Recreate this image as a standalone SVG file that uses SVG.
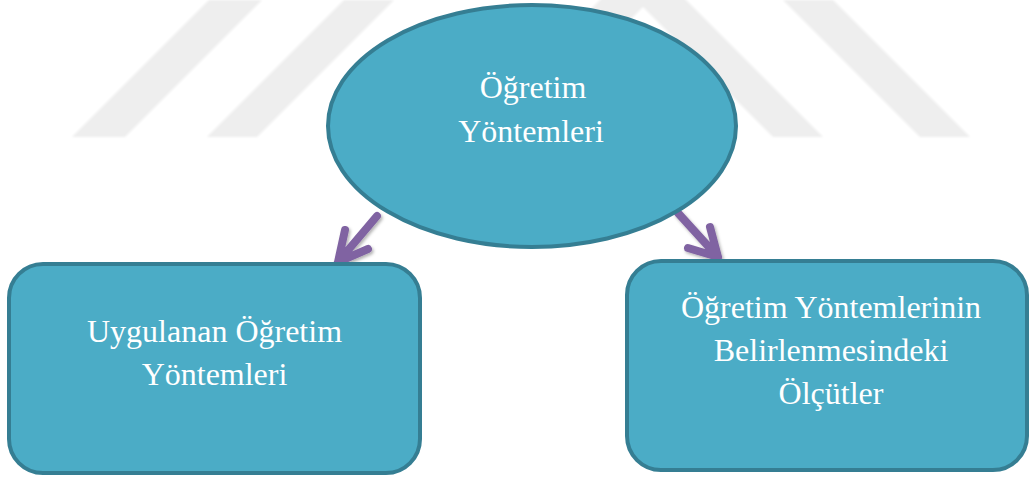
<svg xmlns="http://www.w3.org/2000/svg" width="1030" height="478" viewBox="0 0 1030 478">
  <defs>
    <style>
      .node { fill: #4bacc6; stroke: #357e93; stroke-width: 4; }
      .label { font-family: "Liberation Serif", "Times New Roman", serif; font-size: 32px; fill: #ffffff; text-anchor: middle; }
      .arrow { fill: none; stroke: #8064a2; stroke-width: 8; stroke-linecap: round; stroke-linejoin: round; }
      .mark { fill: #eeeeee; }
    </style>
    <filter id="soft" x="-5%" y="-5%" width="110%" height="110%">
      <feGaussianBlur stdDeviation="0.8"/>
    </filter>
    <filter id="shadow" x="-30%" y="-30%" width="160%" height="160%">
      <feDropShadow dx="1.5" dy="2" stdDeviation="1.5" flood-color="#000000" flood-opacity="0.3"/>
    </filter>
  </defs>

  <rect width="1030" height="478" fill="#ffffff"/>

  <!-- background stripes -->
  <g id="watermark" filter="url(#soft)">
    <polygon class="mark" points="209,0 262,0 125,137 72,137"/>
    <polygon class="mark" points="344,0 394,0 257,137 207,137"/>
    <polygon class="mark" points="643,-43 823,137 773,137 643,7 513,137 463,137"/>
    <polygon class="mark" points="783,0 833,0 970,137 920,137"/>
  </g>

  <!-- connectors -->
  <g id="connectors" filter="url(#shadow)">
    <path class="arrow" d="M377,216 L338,262 M345,230 L338,262 L368,249"/>
    <path class="arrow" d="M678,213 L718,257 M710,227 L718,257 L688,248"/>
  </g>

  <g id="node-root">
    <ellipse class="node" cx="532" cy="126" rx="204" ry="121"/>
    <text class="label" x="533" y="98">Öğretim</text>
    <text class="label" x="531" y="142">Yöntemleri</text>
  </g>

  <g id="node-left">
    <rect class="node" x="9" y="264" width="411" height="209" rx="34" ry="34"/>
    <text class="label" x="214.5" y="342">Uygulanan Öğretim</text>
    <text class="label" x="214.5" y="385">Yöntemleri</text>
  </g>

  <g id="node-right">
    <rect class="node" x="627" y="261" width="400" height="209" rx="34" ry="34"/>
    <text class="label" x="831" y="318">Öğretim Yöntemlerinin</text>
    <text class="label" x="831" y="361">Belirlenmesindeki</text>
    <text class="label" x="831" y="404">Ölçütler</text>
  </g>
</svg>
